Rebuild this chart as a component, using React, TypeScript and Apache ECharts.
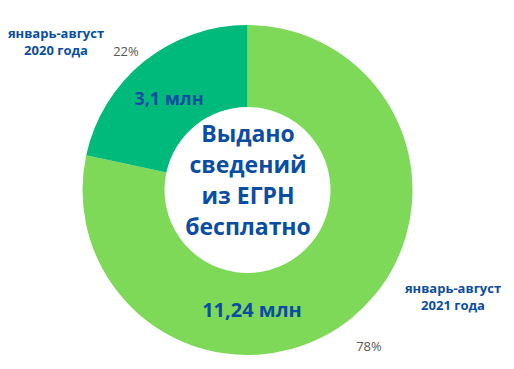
import React, { useEffect, useRef } from "react";
import * as echarts from "echarts";

const categories = ["январь-август\n2021 года", "январь-август\n2020 года"];
const values = [11.24, 3.1];
const valueUnit = "млн";
const centerTitle = "Выдано\nсведений\nиз ЕГРН\nбесплатно";
const colors = ["#7DD957", "#00BA7C"];

const BLUE = "#0B4DA2";
const GRAY = "#595959";
const FONT = "'Open Sans', sans-serif";

export default function App() {
  const ref = useRef<HTMLDivElement>(null);
  useEffect(() => {
    if (!ref.current) return;
    const chart = echarts.init(ref.current, null, { renderer: "svg" });
    const total = values.reduce((a, b) => a + b, 0);
    const fmt = (v: number) => String(v).replace(".", ",") + " " + valueUnit;
    const pct = (v: number) => Math.round((v / total) * 100) + "%";

    const valuePos = [
      [252, 309],
      [169, 98],
    ];
    const pctPos = [
      [369, 346],
      [126, 51],
    ];
    const catPos = [
      [453, 296],
      [56, 41],
    ];

    const graphic: any[] = [
      {
        type: "text",
        x: 248,
        y: 179,
        z: 100,
        style: {
          text: centerTitle,
          font: `bold 23px ${FONT}`,
          fill: BLUE,
          align: "center",
          verticalAlign: "middle",
          lineHeight: 31,
        },
      },
    ];
    values.forEach((v, i) => {
      graphic.push({
        type: "text",
        x: valuePos[i][0],
        y: valuePos[i][1],
        z: 100,
        style: {
          text: fmt(v),
          font: `bold ${i === 0 ? 20 : 18}px ${FONT}`,
          fill: BLUE,
          align: "center",
          verticalAlign: "middle",
        },
      });
      graphic.push({
        type: "text",
        x: pctPos[i][0],
        y: pctPos[i][1],
        z: 100,
        style: {
          text: pct(v),
          font: `13px ${FONT}`,
          fill: GRAY,
          align: "center",
          verticalAlign: "middle",
        },
      });
      graphic.push({
        type: "text",
        x: catPos[i][0],
        y: catPos[i][1],
        z: 100,
        style: {
          text: categories[i],
          font: `bold 13px ${FONT}`,
          fill: BLUE,
          align: "center",
          verticalAlign: "middle",
          lineHeight: 17,
        },
      });
    });

    chart.setOption({
      animation: false,
      backgroundColor: "#ffffff",
      graphic,
      series: [
        {
          type: "pie",
          z: 1,
          center: [247.5, 190],
          radius: [83, 165],
          startAngle: 90,
          clockwise: true,
          label: { show: false },
          labelLine: { show: false },
          emphasis: { disabled: true },
          itemStyle: { borderWidth: 0 },
          data: values.map((v, i) => ({
            value: v,
            name: categories[i],
            itemStyle: { color: colors[i] },
          })),
        },
      ],
    });
    return () => chart.dispose();
  }, []);
  return (
    <div
      ref={ref}
      style={{ position: "fixed", left: 0, top: 0, width: 514, height: 369 }}
    />
  );
}
